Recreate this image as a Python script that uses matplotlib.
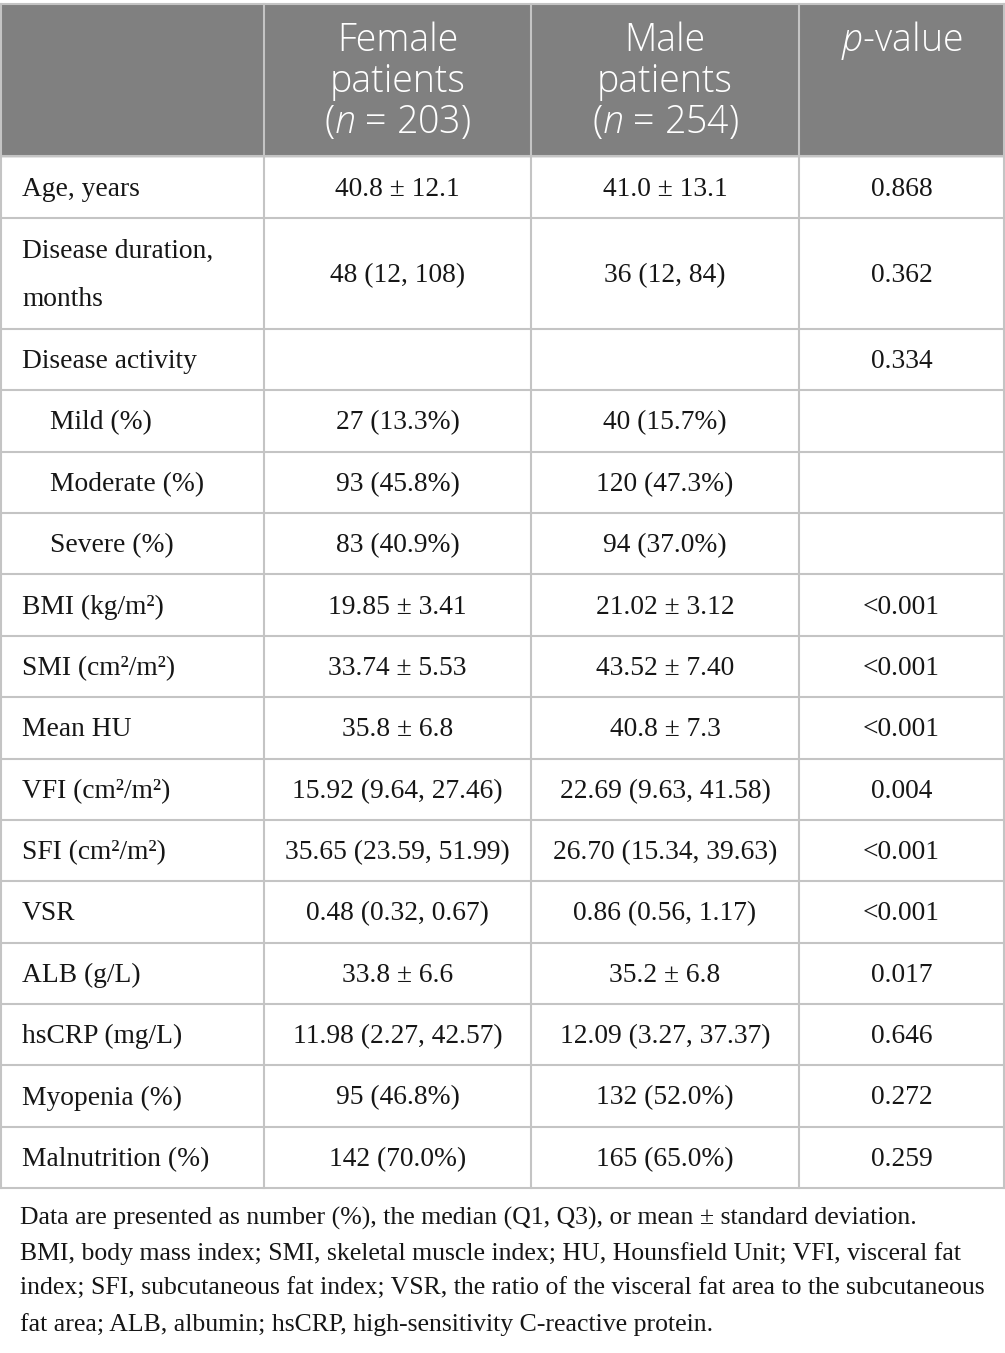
import matplotlib
matplotlib.use("Agg")
import matplotlib.pyplot as plt

plt.rcParams["mathtext.fontset"] = "custom"
plt.rcParams["mathtext.rm"] = "Open Sans:light"
plt.rcParams["mathtext.it"] = "Open Sans:italic:light"

# table content
header_female = ["Female", "patients", "($n$ = 203)"]
header_male = ["Male", "patients", "($n$ = 254)"]
header_p = ["$p$-value"]

row_labels = [
    "Age, years",
    "Disease duration,\nmonths",
    "Disease activity",
    "Mild (%)",
    "Moderate (%)",
    "Severe (%)",
    "BMI (kg/m²)",
    "SMI (cm²/m²)",
    "Mean HU",
    "VFI (cm²/m²)",
    "SFI (cm²/m²)",
    "VSR",
    "ALB (g/L)",
    "hsCRP (mg/L)",
    "Myopenia (%)",
    "Malnutrition (%)",
]
indented = ["Mild (%)", "Moderate (%)", "Severe (%)"]

female_vals = [
    "40.8 ± 12.1", "48 (12, 108)", "", "27 (13.3%)", "93 (45.8%)", "83 (40.9%)",
    "19.85 ± 3.41", "33.74 ± 5.53", "35.8 ± 6.8", "15.92 (9.64, 27.46)",
    "35.65 (23.59, 51.99)", "0.48 (0.32, 0.67)", "33.8 ± 6.6",
    "11.98 (2.27, 42.57)", "95 (46.8%)", "142 (70.0%)",
]
male_vals = [
    "41.0 ± 13.1", "36 (12, 84)", "", "40 (15.7%)", "120 (47.3%)", "94 (37.0%)",
    "21.02 ± 3.12", "43.52 ± 7.40", "40.8 ± 7.3", "22.69 (9.63, 41.58)",
    "26.70 (15.34, 39.63)", "0.86 (0.56, 1.17)", "35.2 ± 6.8",
    "12.09 (3.27, 37.37)", "132 (52.0%)", "165 (65.0%)",
]
p_vals = [
    "0.868", "0.362", "0.334", "", "", "", "<0.001", "<0.001", "<0.001",
    "0.004", "<0.001", "<0.001", "0.017", "0.646", "0.272", "0.259",
]

footnote_lines = [
    "Data are presented as number (%), the median (Q1, Q3), or mean ± standard deviation.",
    "BMI, body mass index; SMI, skeletal muscle index; HU, Hounsfield Unit; VFI, visceral fat",
    "index; SFI, subcutaneous fat index; VSR, the ratio of the visceral fat area to the subcutaneous",
    "fat area; ALB, albumin; hsCRP, high-sensitivity C-reactive protein.",
]

# layout in pixels
W, H = 1005, 1353
col_edges = [1, 264, 531, 799, 1004]
header_top, header_bottom = 4, 156
row_heights = [62, 111] + [61.36] * 14
header_bg = "#808080"
grid_color = "#c4c4c4"
text_color = "#161616"
serif = "Liberation Serif"
sans = "Open Sans"
body_size = 19.8
head_size = 27
foot_size = 18.5

fig = plt.figure(figsize=(W / 100, H / 100), dpi=100)
ax = fig.add_axes([0, 0, 1, 1])
ax.set_xlim(0, W)
ax.set_ylim(H, 0)
ax.axis("off")

# header band
ax.add_patch(plt.Rectangle((col_edges[0], header_top), col_edges[-1] - col_edges[0],
                           header_bottom - header_top, color=header_bg, zorder=0))

centers = [(col_edges[i] + col_edges[i + 1]) / 2 for i in range(len(col_edges) - 1)]
for ci, lines in zip([1, 2, 3], [header_female, header_male, header_p]):
    for li, line in enumerate(lines):
        ax.text(centers[ci], 41 + li * 41, line, ha="center", va="center",
                color="white", fontsize=head_size, family=sans, fontweight="light")

# body rows
row_edges = [header_bottom]
for h in row_heights:
    row_edges.append(row_edges[-1] + h)

for i, label in enumerate(row_labels):
    yc = (row_edges[i] + row_edges[i + 1]) / 2 + 2
    x0 = 50 if label in indented else 22
    ax.text(x0, yc, label, ha="left", va="center", fontsize=body_size,
            family=serif, color=text_color, linespacing=2.25)
    for ci, vals in zip([1, 2, 3], [female_vals, male_vals, p_vals]):
        if vals[i]:
            ax.text(centers[ci], yc, vals[i], ha="center", va="center",
                    fontsize=body_size, family=serif, color=text_color)

# grid lines
ax.plot([col_edges[0], col_edges[-1]], [header_top, header_top], color=grid_color, lw=1.5)
for y in row_edges:
    ax.plot([col_edges[0], col_edges[-1]], [y, y], color=grid_color, lw=1.5)
for x in col_edges:
    ax.plot([x, x], [header_top, row_edges[-1]], color=grid_color, lw=1.5, zorder=1)

# footnote
for li, line in enumerate(footnote_lines):
    ax.text(20, 1218 + li * 35.5, line, ha="left", va="center", fontsize=foot_size,
            family=serif, color=text_color)

fig.savefig("out.png", dpi=100)
